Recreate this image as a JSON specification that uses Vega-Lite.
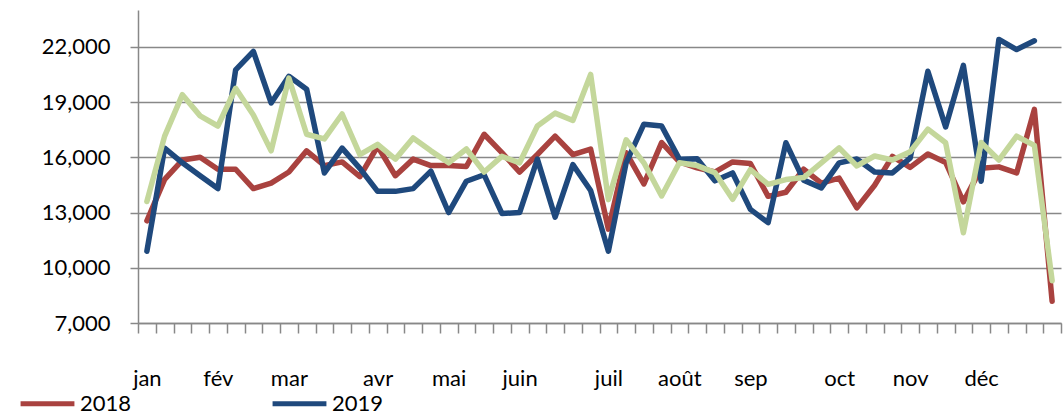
{
  "$schema": "https://vega.github.io/schema/vega-lite/v6.json",
  "width": 923,
  "height": 313,
  "autosize": {"type": "none"},
  "padding": {"left": 138, "top": 10, "right": 2, "bottom": 88},
  "background": "white",
  "data": {"values": [
    {"w":0,"s":"2018","v":12550},{"w":1,"s":"2018","v":14800},{"w":2,"s":"2018","v":15850},{"w":3,"s":"2018","v":16000},{"w":4,"s":"2018","v":15350},{"w":5,"s":"2018","v":15350},{"w":6,"s":"2018","v":14300},{"w":7,"s":"2018","v":14600},{"w":8,"s":"2018","v":15200},{"w":9,"s":"2018","v":16350},{"w":10,"s":"2018","v":15550},{"w":11,"s":"2018","v":15750},{"w":12,"s":"2018","v":14950},{"w":13,"s":"2018","v":16600},{"w":14,"s":"2018","v":15000},{"w":15,"s":"2018","v":15900},{"w":16,"s":"2018","v":15550},{"w":17,"s":"2018","v":15550},{"w":18,"s":"2018","v":15500},{"w":19,"s":"2018","v":17250},{"w":20,"s":"2018","v":16250},{"w":21,"s":"2018","v":15200},{"w":22,"s":"2018","v":16150},{"w":23,"s":"2018","v":17150},{"w":24,"s":"2018","v":16150},{"w":25,"s":"2018","v":16450},{"w":26,"s":"2018","v":12100},{"w":27,"s":"2018","v":16250},{"w":28,"s":"2018","v":14550},{"w":29,"s":"2018","v":16800},{"w":30,"s":"2018","v":15750},{"w":31,"s":"2018","v":15430},{"w":32,"s":"2018","v":15200},{"w":33,"s":"2018","v":15750},{"w":34,"s":"2018","v":15660},{"w":35,"s":"2018","v":13880},{"w":36,"s":"2018","v":14100},{"w":37,"s":"2018","v":15350},{"w":38,"s":"2018","v":14600},{"w":39,"s":"2018","v":14870},{"w":40,"s":"2018","v":13250},{"w":41,"s":"2018","v":14480},{"w":42,"s":"2018","v":16050},{"w":43,"s":"2018","v":15450},{"w":44,"s":"2018","v":16180},{"w":45,"s":"2018","v":15720},{"w":46,"s":"2018","v":13580},{"w":47,"s":"2018","v":15400},{"w":48,"s":"2018","v":15480},{"w":49,"s":"2018","v":15150},{"w":50,"s":"2018","v":18600},{"w":51,"s":"2018","v":8180},
    {"w":0,"s":"2019","v":10900},{"w":1,"s":"2019","v":16500},{"w":2,"s":"2019","v":15700},{"w":3,"s":"2019","v":15000},{"w":4,"s":"2019","v":14300},{"w":5,"s":"2019","v":20750},{"w":6,"s":"2019","v":21750},{"w":7,"s":"2019","v":18950},{"w":8,"s":"2019","v":20400},{"w":9,"s":"2019","v":19700},{"w":10,"s":"2019","v":15150},{"w":11,"s":"2019","v":16500},{"w":12,"s":"2019","v":15400},{"w":13,"s":"2019","v":14150},{"w":14,"s":"2019","v":14150},{"w":15,"s":"2019","v":14300},{"w":16,"s":"2019","v":15250},{"w":17,"s":"2019","v":13000},{"w":18,"s":"2019","v":14700},{"w":19,"s":"2019","v":15050},{"w":20,"s":"2019","v":12950},{"w":21,"s":"2019","v":13000},{"w":22,"s":"2019","v":15900},{"w":23,"s":"2019","v":12750},{"w":24,"s":"2019","v":15600},{"w":25,"s":"2019","v":14200},{"w":26,"s":"2019","v":10900},{"w":27,"s":"2019","v":15700},{"w":28,"s":"2019","v":17800},{"w":29,"s":"2019","v":17700},{"w":30,"s":"2019","v":15900},{"w":31,"s":"2019","v":15920},{"w":32,"s":"2019","v":14720},{"w":33,"s":"2019","v":15150},{"w":34,"s":"2019","v":13170},{"w":35,"s":"2019","v":12450},{"w":36,"s":"2019","v":16790},{"w":37,"s":"2019","v":14760},{"w":38,"s":"2019","v":14340},{"w":39,"s":"2019","v":15700},{"w":40,"s":"2019","v":15910},{"w":41,"s":"2019","v":15200},{"w":42,"s":"2019","v":15150},{"w":43,"s":"2019","v":15950},{"w":44,"s":"2019","v":20670},{"w":45,"s":"2019","v":17650},{"w":46,"s":"2019","v":20990},{"w":47,"s":"2019","v":14700},{"w":48,"s":"2019","v":22400},{"w":49,"s":"2019","v":21850},{"w":50,"s":"2019","v":22330},
    {"w":0,"s":"2017","v":13600},{"w":1,"s":"2017","v":17150},{"w":2,"s":"2017","v":19400},{"w":3,"s":"2017","v":18250},{"w":4,"s":"2017","v":17700},{"w":5,"s":"2017","v":19750},{"w":6,"s":"2017","v":18300},{"w":7,"s":"2017","v":16350},{"w":8,"s":"2017","v":20300},{"w":9,"s":"2017","v":17250},{"w":10,"s":"2017","v":17000},{"w":11,"s":"2017","v":18350},{"w":12,"s":"2017","v":16150},{"w":13,"s":"2017","v":16700},{"w":14,"s":"2017","v":15900},{"w":15,"s":"2017","v":17050},{"w":16,"s":"2017","v":16350},{"w":17,"s":"2017","v":15700},{"w":18,"s":"2017","v":16450},{"w":19,"s":"2017","v":15200},{"w":20,"s":"2017","v":16050},{"w":21,"s":"2017","v":15700},{"w":22,"s":"2017","v":17700},{"w":23,"s":"2017","v":18400},{"w":24,"s":"2017","v":18000},{"w":25,"s":"2017","v":20500},{"w":26,"s":"2017","v":13700},{"w":27,"s":"2017","v":16950},{"w":28,"s":"2017","v":15700},{"w":29,"s":"2017","v":13900},{"w":30,"s":"2017","v":15700},{"w":31,"s":"2017","v":15550},{"w":32,"s":"2017","v":15170},{"w":33,"s":"2017","v":13720},{"w":34,"s":"2017","v":15330},{"w":35,"s":"2017","v":14530},{"w":36,"s":"2017","v":14790},{"w":37,"s":"2017","v":14900},{"w":38,"s":"2017","v":15700},{"w":39,"s":"2017","v":16510},{"w":40,"s":"2017","v":15530},{"w":41,"s":"2017","v":16070},{"w":42,"s":"2017","v":15850},{"w":43,"s":"2017","v":16300},{"w":44,"s":"2017","v":17530},{"w":45,"s":"2017","v":16790},{"w":46,"s":"2017","v":11900},{"w":47,"s":"2017","v":16800},{"w":48,"s":"2017","v":15850},{"w":49,"s":"2017","v":17150},{"w":50,"s":"2017","v":16650},{"w":51,"s":"2017","v":9300}
  ]},
  "encoding": {
    "x": {
      "field": "w", "type": "quantitative",
      "scale": {"domain": [-0.5, 51.5], "nice": false, "zero": false},
      "axis": {
        "title": null,
        "values": [-0.5,0.5,1.5,2.5,3.5,4.5,5.5,6.5,7.5,8.5,9.5,10.5,11.5,12.5,13.5,14.5,15.5,16.5,17.5,18.5,19.5,20.5,21.5,22.5,23.5,24.5,25.5,26.5,27.5,28.5,29.5,30.5,31.5,32.5,33.5,34.5,35.5,36.5,37.5,38.5,39.5,40.5,41.5,42.5,43.5,44.5,45.5,46.5,47.5,48.5,49.5,50.5,51.5],
        "labelExpr": "indexof([-0.5,3.5,7.5,12.5,16.5,20.5,25.5,29.5,33.5,38.5,42.5,46.5], datum.value) >= 0 ? ['jan','fév','mar','avr','mai','juin','juil','août','sep','oct','nov','déc'][indexof([-0.5,3.5,7.5,12.5,16.5,20.5,25.5,29.5,33.5,38.5,42.5,46.5], datum.value)] : ''",
        "labelOffset": 8.875,
        "labelAngle": 0,
        "labelAlign": "center",
        "labelPadding": 35,
        "labelOverlap": false,
        "labelFlush": false,
        "labelBound": false,
        "tickSize": 10,
        "grid": false
      }
    },
    "y": {
      "field": "v", "type": "quantitative",
      "scale": {"domain": [7000, 24000], "nice": false, "zero": false},
      "axis": {
        "title": null,
        "values": [7000,10000,13000,16000,19000,22000],
        "format": ",d",
        "tickSize": 8,
        "labelPadding": 20,
        "grid": true
      }
    },
    "color": {
      "field": "s", "type": "nominal",
      "scale": {"domain": ["2018","2019","2017"], "range": ["#A9423F","#1F497D","#C4D79B"]},
      "legend": {
        "title": null,
        "values": ["2018","2019"],
        "orient": "none",
        "legendX": -120,
        "legendY": 364,
        "direction": "horizontal",
        "symbolType": "stroke",
        "symbolSize": 2900,
        "symbolStrokeWidth": 5,
        "labelFontSize": 22,
        "labelFont": "Lato",
        "labelColor": "#000",
        "labelOffset": 3,
        "columnPadding": 130,
        "padding": 0
      }
    }
  },
  "layer": [
    {"transform": [{"filter": "datum.s === '2018'"}], "mark": {"type": "line", "strokeWidth": 5.5, "strokeJoin": "round", "strokeCap": "round"}},
    {"transform": [{"filter": "datum.s === '2019'"}], "mark": {"type": "line", "strokeWidth": 5.5, "strokeJoin": "round", "strokeCap": "round"}},
    {"transform": [{"filter": "datum.s === '2017'"}], "mark": {"type": "line", "strokeWidth": 5.5, "strokeJoin": "round", "strokeCap": "round"}}
  ],
  "config": {
    "font": "Lato",
    "view": {"stroke": null},
    "axis": {
      "labelFont": "Lato",
      "labelFontSize": 22,
      "labelColor": "#000",
      "domainColor": "#888888",
      "domainWidth": 1.5,
      "tickColor": "#888888",
      "tickWidth": 1.5,
      "gridColor": "#888888",
      "gridWidth": 1.5,
      "gridOpacity": 1
    }
  }
}
